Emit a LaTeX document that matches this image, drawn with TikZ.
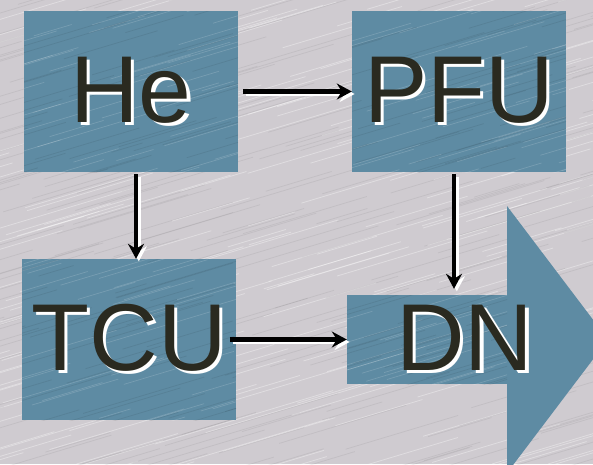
\documentclass[tikz,border=0pt]{standalone}
\usepackage{fontspec}
\setmainfont{Liberation Sans}
\usetikzlibrary{arrows.meta,calc}
\definecolor{bgray}{RGB}{207,203,208}
\definecolor{steel}{RGB}{94,139,163}
\definecolor{ink}{RGB}{42,42,32}
\newcommand\embossed[1]{\rlap{\hspace{3.5pt}\raisebox{-3pt}{\color{white}#1}}#1}
\tikzset{
  brushed/.style={path picture={
    \foreach \i in {1,...,45}{
      \pgfmathsetmacro\sx{rnd*280-60}
      \pgfmathsetmacro\sy{rnd*200}
      \pgfmathsetmacro\ln{30+rnd*100}
      \draw[white,opacity=0.16,line width=0.7pt]
        ([shift={(\sx pt,-\sy pt)}]path picture bounding box.north west) -- ++(\ln pt,0.3*\ln pt);
      \pgfmathsetmacro\sx{rnd*280-60}
      \pgfmathsetmacro\sy{rnd*200}
      \pgfmathsetmacro\ln{30+rnd*100}
      \draw[black,opacity=0.08,line width=0.7pt]
        ([shift={(\sx pt,-\sy pt)}]path picture bounding box.north west) -- ++(\ln pt,0.3*\ln pt);
    }}},
  box/.style={fill=steel, brushed, minimum width=214pt, minimum height=161pt, inner sep=0pt,
    font=\fontsize{95}{95}\selectfont, text=ink},
  conn/.style={line width=4.2pt, -{Stealth[length=15pt,width=16pt,inset=5pt]},
    preaction={draw=white, line width=3.5pt, transform canvas={shift={(2.8pt,-2.5pt)}}}},
}
\begin{document}
\begin{tikzpicture}[x=1pt,y=-1pt]
  \pgfmathsetseed{7}
  \fill[bgray] (0,0) rectangle (593,464);
  \useasboundingbox (0,0) rectangle (593,464);
  \begin{scope}
    \clip (0,0) rectangle (593,464);
    \foreach \i in {1,...,260}{
      \pgfmathsetmacro\sx{rnd*760-120}
      \pgfmathsetmacro\sy{rnd*600}
      \pgfmathsetmacro\ln{40+rnd*140}
      \draw[white,opacity=0.35,line width=0.8pt] (\sx,\sy) -- ++(\ln,-0.3*\ln);
      \pgfmathsetmacro\sx{rnd*760-120}
      \pgfmathsetmacro\sy{rnd*600}
      \pgfmathsetmacro\ln{40+rnd*140}
      \draw[black,opacity=0.06,line width=0.8pt] (\sx,\sy) -- ++(\ln,-0.3*\ln);
    }
    % big arrow head behind DN
    \fill[steel] (507,206) -- (608,339.5) -- (507,473) -- cycle;
  \end{scope}

  \node[box] (he)  at (131,91.5)  {\embossed{He}};
  \node[box] (pfu) at (459,91.5)  {\embossed{PFU}};
  \node[box] (tcu) at (129,339.5) {\embossed{TCU}};
  \node[box, minimum width=160pt, minimum height=89pt] (dn) at (427,339.5)
    {\makebox[0pt]{\hspace{76pt}\embossed{DN}}};

  \draw[conn, shorten <=5pt] (he.east) -- (pfu.west);
  \draw[conn, shorten <=2pt] ([xshift=5pt]he.south) -- ([xshift=5pt]he.south |- tcu.north);
  \draw[conn, shorten <=2pt, shorten >=6pt] ([xshift=-5pt]pfu.south) -- ([xshift=-5pt]pfu.south |- dn.north);
  \draw[conn, shorten <=-6pt] (tcu.east) -- (dn.west);
\end{tikzpicture}
\end{document}
